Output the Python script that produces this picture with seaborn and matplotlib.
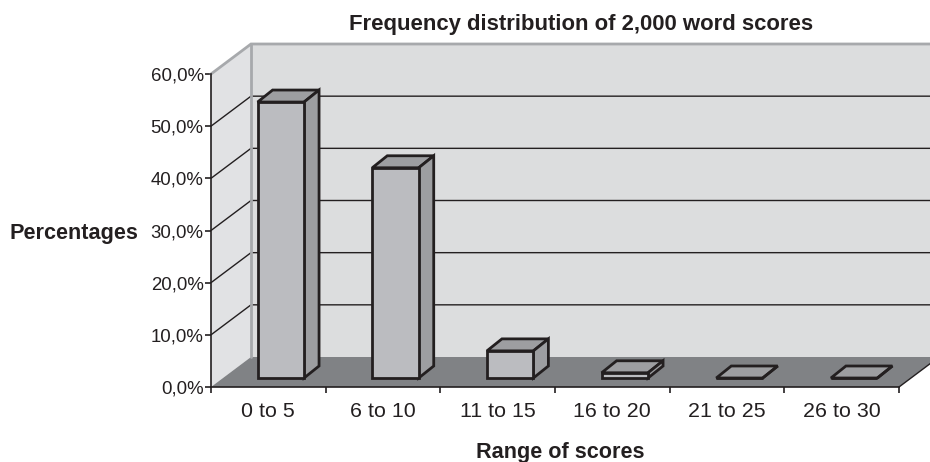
import matplotlib
matplotlib.use('Agg')
import matplotlib.pyplot as plt
import pandas as pd
import seaborn as sns
from matplotlib.patches import Polygon
from matplotlib.transforms import Affine2D, IdentityTransform

ranges = ['0 to 5', '6 to 10', '11 to 15', '16 to 20', '21 to 25', '26 to 30']
percentages = [52.9, 40.3, 5.2, 1.0, 0.0, 0.0]
y_ticks = [0, 10, 20, 30, 40, 50, 60]
y_tick_labels = ['0,0%', '10,0%', '20,0%', '30,0%', '40,0%', '50,0%', '60,0%']

data = pd.DataFrame({'Range': ranges, 'Percent': percentages})

sns.set_style('white')
plt.rcParams['font.family'] = ['Liberation Sans', 'DejaVu Sans']

fig = plt.figure(figsize=(9.3, 4.62), dpi=100)
ax = fig.add_axes([211 / 930, 75 / 462, 688 / 930, 313 / 462])

sns.barplot(x='Range', y='Percent', data=data, color='#bbbcc0', saturation=1,
            width=0.405, edgecolor='#231f20', linewidth=2, zorder=5, ax=ax)
ax.set_xlim(-0.5, 5.5)
ax.set_ylim(0, 60)
ax.patch.set_visible(False)

# depth of the fake 3D box and of the bars, in pixels
wall_dx, wall_dy = 40, 30
bar_dx, bar_dy = 12.5, 9
depth_dx, depth_dy = 15, 12


def px(x, y, dx=0, dy=0):
    a, b = ax.transData.transform((x, y))
    return (a + dx, b + dy)


def poly(points, color, edge='none', lw=0, z=1):
    ax.add_patch(Polygon(points, closed=True, facecolor=color, edgecolor=edge, linewidth=lw,
                         transform=IdentityTransform(), clip_on=False, zorder=z, joinstyle='miter'))


left, right = -0.5, 5.5

# back wall, side wall, floor
poly([px(left, 0, wall_dx, wall_dy), px(left, 60, wall_dx, wall_dy),
      px(right, 60, wall_dx, wall_dy), px(right, 0, wall_dx, wall_dy)], '#dcddde')
poly([px(left, 0), px(left, 60), px(left, 60, wall_dx, wall_dy), px(left, 0, wall_dx, wall_dy)], '#e1e2e4')
poly([px(left, 0), px(left, 0, wall_dx, wall_dy), px(right, 0, wall_dx, wall_dy), px(right, 0)], '#808285')

# grid lines on the walls
for t in y_ticks[1:-1]:
    a = px(left, t)
    b = px(left, t, wall_dx, wall_dy)
    c = px(right, t, wall_dx, wall_dy)
    ax.plot([a[0], b[0], c[0]], [a[1], b[1], c[1]], color='#231f20', lw=1, transform=IdentityTransform(),
            clip_on=False, zorder=2, solid_joinstyle='miter')

# grey border of the box
a = px(left, 60)
b = px(left, 60, wall_dx, wall_dy)
c = px(right, 60, wall_dx, wall_dy)
d = px(left, 0, wall_dx, wall_dy)
ax.plot([a[0], b[0], c[0]], [a[1], b[1], c[1]], color='#a7a9ac', lw=2, transform=IdentityTransform(),
        clip_on=False, zorder=3, solid_joinstyle='miter')
ax.plot([b[0], d[0]], [b[1], d[1]], color='#a7a9ac', lw=2, transform=IdentityTransform(), clip_on=False, zorder=3)
e = px(right, 0)
f = px(right, 0, wall_dx, wall_dy)
ax.plot([e[0], f[0]], [e[1], f[1]], color='#231f20', lw=1, transform=IdentityTransform(), clip_on=False, zorder=3)

# bars: seaborn draws the front, top and side come from the same patches
for bar in ax.patches[:len(ranges)]:
    x0, w, h = bar.get_x(), bar.get_width(), bar.get_height()
    br = px(x0 + w, 0, bar_dx, bar_dy)
    tl = px(x0, h, bar_dx, bar_dy)
    tr = px(x0 + w, h, bar_dx, bar_dy)
    shift = lambda p: (p[0] + depth_dx, p[1] + depth_dy)
    poly([tl, tr, shift(tr), shift(tl)], '#9d9ea1', '#231f20', 2, 4)
    poly([br, shift(br), shift(tr), tr], '#9d9ea1', '#231f20', 2, 4)
    bar.set_transform(ax.transData + Affine2D().translate(bar_dx, bar_dy))
    bar.set_clip_on(False)

sns.despine(ax=ax, top=True, right=True)
for s in ['left', 'bottom']:
    ax.spines[s].set_color('#231f20')
    ax.spines[s].set_linewidth(1.2)
    ax.spines[s].set_zorder(6)

ax.set_yticks(y_ticks)
ax.set_yticklabels(y_tick_labels)
ax.set_xticks([i - 0.5 for i in range(len(ranges) + 1)], minor=False)
ax.set_xticklabels([''] * (len(ranges) + 1))
ax.tick_params(axis='both', which='major', left=True, bottom=True, length=4.3, width=1.2, color='#231f20')
ax.tick_params(axis='y', labelsize=13.4, labelcolor='#231f20', pad=1)
for i, name in enumerate(ranges):
    ax.annotate(name, (i, 0), xytext=(0, -15), textcoords='offset pixels', ha='center', va='top',
                fontsize=15.4, color='#231f20', annotation_clip=False)

ax.set_title('Frequency distribution of 2,000 word scores', x=(581 - 211) / 688, y=(387 - 35) / 313,
             fontsize=15.9, fontweight='bold', color='#231f20', va='bottom', pad=0)
ax.set_xlabel('Range of scores', fontsize=15.6, fontweight='bold', color='#231f20', va='center')
ax.xaxis.set_label_coords((560 - 211) / 688, -(452.5 - 387) / 313)
ax.set_ylabel('Percentages', fontsize=15.6, fontweight='bold', color='#231f20', rotation=0, ha='center', va='center')
ax.yaxis.set_label_coords((73.5 - 211) / 688, (387 - 234) / 313)

fig.savefig('out.png', dpi=100)
